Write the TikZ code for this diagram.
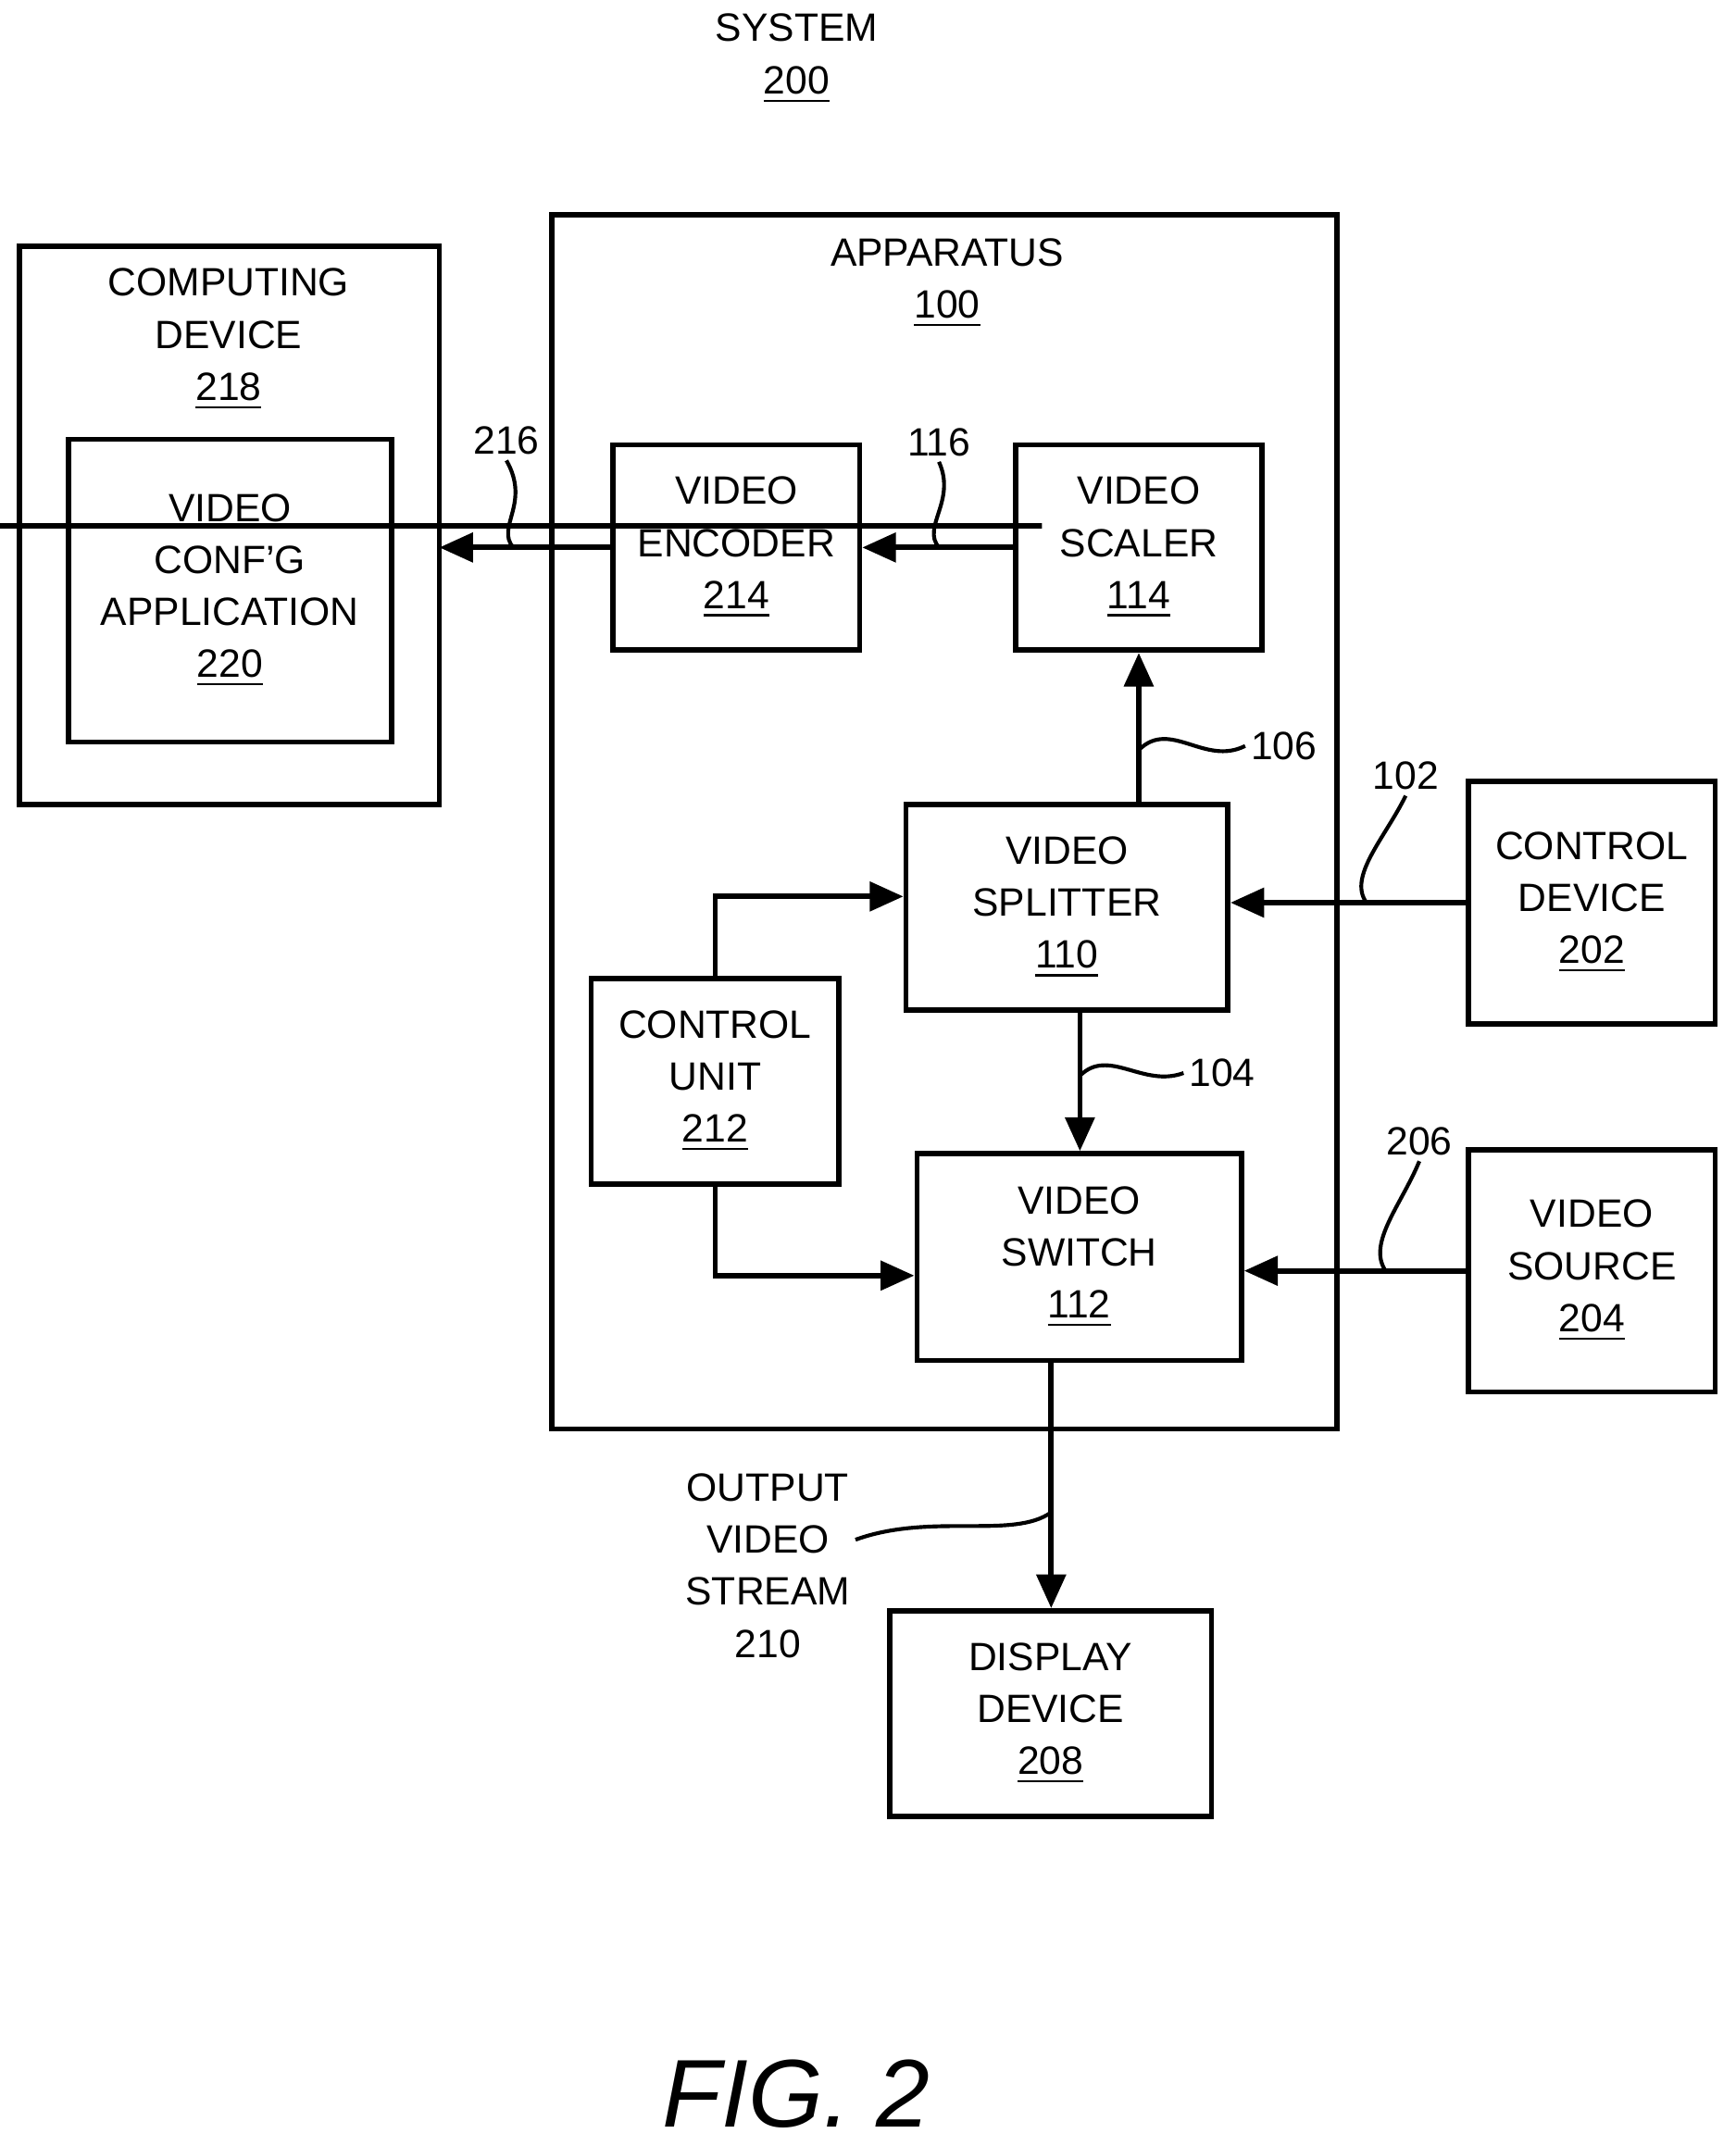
\documentclass[tikz,border=0pt]{standalone}
\usepackage{fontspec}
\setmainfont{Liberation Sans}
\usetikzlibrary{arrows.meta}
\tikzset{
  box/.style={draw, line width=1.1pt, align=center, inner sep=0pt},
  lbl/.style={align=center, inner sep=1pt},
  conn/.style={draw, line width=1.1pt, -{Triangle[length=7pt,width=6pt]}},
  lead/.style={draw, line width=0.8pt},
}
\newcommand{\un}[1]{\underline{#1}}
\begin{document}
\begin{tikzpicture}[x=0.01cm, y=-0.01cm, font=\fontsize{8.2}{10.8}\selectfont]
\useasboundingbox (0,0) rectangle (1268,1568);
% title
\node[lbl] (sys) at (582,43) {SYSTEM\\\un{200}};
% outer boxes
\node[box, minimum width=307\pgflinewidth, minimum height=0] (cdev) at (167.5,384) {};
\draw[line width=1.1pt] (14,180) rectangle (321,588);
\coordinate (cdevE) at (321,400);
\node[lbl, anchor=north] (cdevt) at (167,192) {COMPUTING\\DEVICE\\\un{218}};
\node[box, minimum width=2.36cm, minimum height=2.21cm] (app) at (168,431.5) {VIDEO\\CONF'G\\APPLICATION\\\un{220}};
\draw[line width=1.1pt] (403,157) rectangle (977,1044);
\node[lbl, anchor=north] (appt) at (692,170) {APPARATUS\\\un{100}};
% blocks
\node[box, minimum width=1.8cm, minimum height=1.5cm] (enc) at (538,400) {VIDEO\\ENCODER\\\un{214}};
\node[box, minimum width=1.8cm, minimum height=1.5cm] (scl) at (832,400) {VIDEO\\SCALER\\\un{114}};
\node[box, minimum width=2.35cm, minimum height=1.5cm] (spl) at (779.5,663) {VIDEO\\SPLITTER\\\un{110}};
\node[box, minimum width=1.81cm, minimum height=1.5cm] (cu) at (522.5,790) {CONTROL\\UNIT\\\un{212}};
\node[box, minimum width=2.37cm, minimum height=1.51cm] (sw) at (788.5,918.5) {VIDEO\\SWITCH\\\un{112}};
\node[box, minimum width=1.8cm, minimum height=1.77cm] (ctl) at (1163,659.5) {CONTROL\\DEVICE\\\un{202}};
\node[box, minimum width=1.8cm, minimum height=1.77cm] (src) at (1163,928.5) {VIDEO\\SOURCE\\\un{204}};
\node[box, minimum width=2.35cm, minimum height=1.5cm] (disp) at (767.5,1252) {DISPLAY\\DEVICE\\\un{208}};
% connectors
\path[conn] (scl) -- (enc);
\path[conn] (enc.west) -- (cdevE);
\path[conn] (spl.north -| scl) -- (scl.south);
\path[conn] (ctl) -- (spl.east |- ctl);
\path[conn] (spl.south -| 789,0) -- (sw.north -| 789,0);
\path[conn] (src) -- (sw.east |- src);
\path[conn] (cu.north) |- (spl.west |- 0,655);
\path[conn] (cu.south) |- (sw.west |- 0,932);
\path[conn] (sw.south -| 768,0) -- (disp.north -| 768,0);
% reference labels with leads
\node[lbl] (l216) at (370,322) {216};
\node[lbl] (l116) at (686,323) {116};
\node[lbl] (l106) at (938,545) {106};
\node[lbl] (l102) at (1027,567) {102};
\node[lbl] (l104) at (893,784) {104};
\node[lbl] (l206) at (1037,834) {206};
\node[lbl] (l210) at (561,1144) {OUTPUT\\VIDEO\\STREAM\\210};
\draw[lead] (375,400) .. controls (362,385) and (388,368) .. (l216.south);
\draw[lead] (686,400) .. controls (673,385) and (699,366) .. (l116.south);
\draw[lead] (832,548) .. controls (855,525) and (880,560) .. (l106.west);
\draw[lead] (998,659) .. controls (985,640) and (1012,612) .. (l102.south);
\draw[lead] (789,786) .. controls (810,765) and (835,795) .. (l104.west);
\draw[lead] (1012,928) .. controls (999,908) and (1024,880) .. (l206.south);
\draw[lead] (768,1105) .. controls (740,1125) and (680,1105) .. (625,1125);
% figure label
\node[lbl, font=\fontsize{20}{24}\selectfont\itshape] (fig) at (582,1530) {FIG. 2};
\end{tikzpicture}
\end{document}
